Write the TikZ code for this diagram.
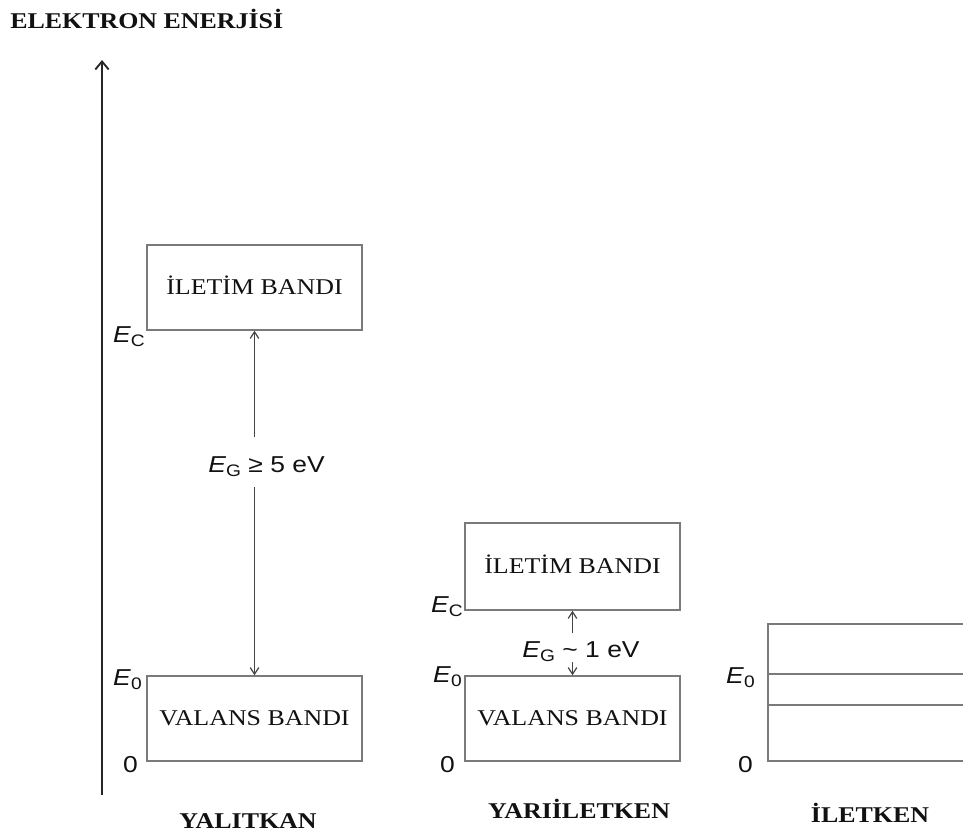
\documentclass[tikz,border=0pt]{standalone}
\usepackage{fontspec}
\setmainfont{Liberation Serif}
\newfontfamily\sansf{Liberation Sans}
\usetikzlibrary{arrows.meta}
\definecolor{boxgray}{HTML}{7A7A7A}
\definecolor{arrgray}{HTML}{444444}
\definecolor{txt}{HTML}{111111}
\newcommand{\wide}[1]{\scalebox{1.15}[1]{#1}}
\newcommand{\sanslab}[1]{\wide{\fontsize{17.25pt}{20pt}\sansf #1}}
\newcommand{\Esub}[1]{\textit{E}\raisebox{-3.5pt}{\fontsize{12.5pt}{14pt}\selectfont #1}}
\begin{document}
\begin{tikzpicture}[x=0.75pt,y=-0.75pt,
  band/.style={draw=boxgray, line width=1.1pt, minimum width=161.25pt, minimum height=63.75pt,
    inner sep=0pt, text height=11.2pt, text depth=0pt, font=\fontsize{16.9pt}{20pt}\selectfont, text=txt},
  lab/.style={inner sep=0pt, text=txt},
  head/.style={inner sep=0pt, text=txt, font=\fontsize{16.9pt}{20pt}\selectfont\bfseries},
  gap/.style={draw=arrgray, line width=0.9pt, -{Straight Barb[length=5pt,width=6.5pt]}},
  axis/.style={draw=black!85, line width=1.4pt, -{Straight Barb[length=6pt,width=10pt]}},
  cond/.style={draw=boxgray, line width=1.1pt}]
\useasboundingbox (0,0) rectangle (963,833);

% title and axis
\node[head, anchor=base west] (title) at (10,28) {\wide{ELEKTRON ENERJİSİ}};
\coordinate (axb) at (102,795);
\coordinate (axt) at (102,60);
\draw[axis] (axb) -- (axt);

% insulator
\node[band] (c1) at (254.5,287.5) {\wide{İLETİM BANDI}};
\node[band] (v1) at (254.5,718.5) {\wide{VALANS BANDI}};
\node[lab, anchor=base west] (g1) at (208,472) {\sanslab{\Esub{G} ≥ 5 eV}};
\coordinate (g1t) at (254.5,437);
\coordinate (g1b) at (254.5,487);
\draw[gap] (g1t) -- (c1.south);
\draw[gap] (g1b) -- (v1.north);
\node[lab, anchor=base east] (ec1) at (145,342) {\sanslab{\Esub{C}}};
\node[lab, anchor=base east] (e01) at (142,685) {\sanslab{\Esub{0}}};
\node[lab, anchor=base east] (z1) at (138,772) {\sanslab{0}};
\node[head, anchor=base] (n1) at (248,828) {\wide{YALITKAN}};

% semiconductor
\node[band, minimum height=65.25pt] (c2) at (572.5,566.5) {\wide{İLETİM BANDI}};
\node[band] (v2) at (572.5,718.5) {\wide{VALANS BANDI}};
\node[lab, anchor=base west] (g2) at (522,657) {\sanslab{\Esub{G} \textasciitilde{} 1 eV}};
\coordinate (g2t) at (572.5,633);
\coordinate (g2b) at (572.5,662);
\draw[gap] (g2t) -- (c2.south);
\draw[gap] (g2b) -- (v2.north);
\node[lab, anchor=base east] (ec2) at (463,612) {\sanslab{\Esub{C}}};
\node[lab, anchor=base east] (e02) at (462,682) {\sanslab{\Esub{0}}};
\node[lab, anchor=base east] (z2) at (455,772) {\sanslab{0}};
\node[head, anchor=base] (n2) at (579,818) {\wide{YARIİLETKEN}};

% conductor
\coordinate (k1) at (768,624);
\coordinate (k1r) at (963,624);
\coordinate (k2) at (768,674);
\coordinate (k2r) at (963,674);
\coordinate (k3) at (768,705);
\coordinate (k3r) at (963,705);
\coordinate (k4) at (768,761);
\coordinate (k4r) at (963,761);
\draw[cond] (k1r) -- (k1) -- (k4) -- (k4r);
\draw[cond] (k2) -- (k2r);
\draw[cond] (k3) -- (k3r);
\node[lab, anchor=base east] (e03) at (755,683) {\sanslab{\Esub{0}}};
\node[lab, anchor=base east] (z3) at (753,772) {\sanslab{0}};
\node[head, anchor=base] (n3) at (870,822) {\wide{İLETKEN}};
\end{tikzpicture}
\end{document}
